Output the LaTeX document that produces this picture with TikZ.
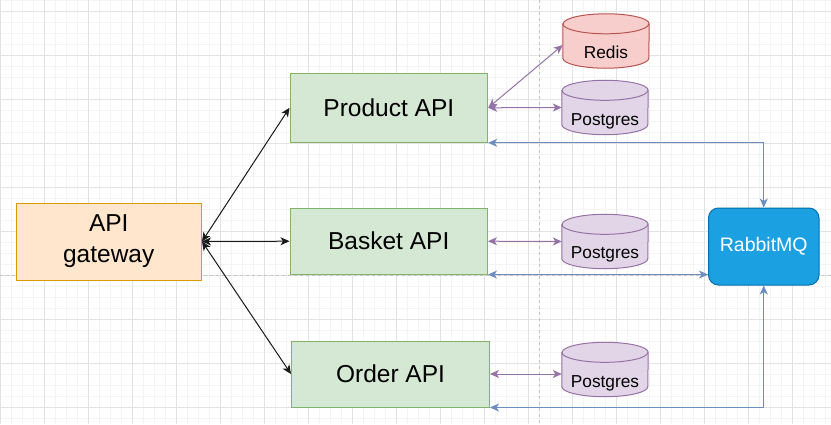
\documentclass[tikz,border=0pt]{standalone}
\usepackage{fontspec}
\setmainfont{Liberation Sans}
\usetikzlibrary{arrows.meta}
\definecolor{gwfill}{HTML}{FFE6CC}
\definecolor{gwdraw}{HTML}{D79B00}
\definecolor{apifill}{HTML}{D5E8D4}
\definecolor{apidraw}{HTML}{82B366}
\definecolor{redfill}{HTML}{F8CECC}
\definecolor{reddraw}{HTML}{B85450}
\definecolor{purfill}{HTML}{E1D5E7}
\definecolor{purdraw}{HTML}{9673A6}
\definecolor{rmqfill}{HTML}{1BA1E2}
\definecolor{rmqdraw}{HTML}{006EAF}
\definecolor{blueline}{HTML}{6C8EBF}
\definecolor{minorg}{HTML}{F4F4F4}
\definecolor{majorg}{HTML}{E2E2E2}
\definecolor{guide}{HTML}{C4C4C4}
\newcommand\drawcyl[3]{%
  \path[fill=#2,draw=#3,line width=1pt] ([yshift=-10pt]#1.north west) -- ([yshift=10pt]#1.south west)
    arc[start angle=180,end angle=360,x radius=43pt,y radius=10pt]
    -- ([yshift=-10pt]#1.north east)
    arc[start angle=0,end angle=180,x radius=43pt,y radius=10pt] -- cycle;
  \draw[#3,line width=1pt] ([yshift=-10pt]#1.north west)
    arc[start angle=180,end angle=360,x radius=43pt,y radius=10pt];}
\begin{document}
\begin{tikzpicture}[x=1pt,y=-1pt,
  minorline/.style={draw=minorg,line width=0.8pt},
  majorline/.style={draw=majorg,line width=0.8pt},
  guideline/.style={draw=guide,line width=0.8pt,dash pattern=on 3pt off 3pt},
  apibox/.style={draw=apidraw,fill=apifill,line width=1pt,inner sep=0pt,
    font=\fontsize{24.5}{31}\selectfont},
  gwbox/.style={draw=gwdraw,fill=gwfill,line width=1pt,inner sep=0pt,align=center,
    font=\fontsize{24.5}{31}\selectfont},
  rmqbox/.style={draw=rmqdraw,fill=rmqfill,line width=1pt,rounded corners=10pt,
    inner sep=0pt,text=white,font=\fontsize{19.5}{23}\selectfont},
  cylnode/.style={minimum width=86pt,minimum height=54pt,inner sep=0pt},
  cyllabel/.style={anchor=base,inner sep=0pt,font=\fontsize{17.3}{20}\selectfont},
  >={Stealth[length=9pt,width=8pt,inset=2.5pt]},
  blackarrow/.style={<->,draw=black!90,line width=1pt},
  purarrow/.style={<->,draw=purdraw,line width=1pt},
  bluearrow/.style={<->,draw=blueline,line width=1pt},
]
\useasboundingbox (0,0) rectangle (831,424);
\fill[white] (0,0) rectangle (831,424);
% grid
\foreach \i in {0,...,75} \draw[minorline] (11*\i,0) -- (11*\i,424);
\foreach \j in {0,...,38} \draw[minorline] (0,0.5+11*\j) -- (831,0.5+11*\j);
\foreach \i in {0,...,18} \draw[majorline] (44*\i,0) -- (44*\i,424);
\foreach \j in {0,...,9} \draw[majorline] (0,11.5+44*\j) -- (831,11.5+44*\j);
% guides
\draw[guideline] (539.5,0) -- (539.5,424);
\draw[guideline] (0,275.5) -- (831,275.5);

% boxes
\node[gwbox,minimum width=185.5pt,minimum height=77pt] (gw) at (108.75,241.5) {API\\gateway};
\node[apibox,minimum width=197.7pt,minimum height=69pt] (product) at (388.85,107.8) {Product API};
\node[apibox,minimum width=197.5pt,minimum height=65.7pt] (basket) at (388.75,241.2) {Basket API};
\node[apibox,minimum width=198pt,minimum height=66pt] (order) at (390.5,374) {Order API};
\node[rmqbox,minimum width=110.5pt,minimum height=77pt] (rmq) at (763.75,246.5) {RabbitMQ};

% cylinders
\node[cylnode] (redis) at (606,41) {};
\node[cylnode] (pga) at (605,107.5) {};
\node[cylnode] (pgb) at (605,241.5) {};
\node[cylnode] (pgc) at (605,369.5) {};
\drawcyl{redis}{redfill}{reddraw}
\drawcyl{pga}{purfill}{purdraw}
\drawcyl{pgb}{purfill}{purdraw}
\drawcyl{pgc}{purfill}{purdraw}
\node[cyllabel] (redislbl) at ([yshift=-17.5pt]redis.center) {Redis};
\node[cyllabel] (pgalbl) at ([yshift=-18pt]pga.center) {Postgres};
\node[cyllabel] (pgblbl) at ([yshift=-17pt]pgb.center) {Postgres};
\node[cyllabel] (pgclbl) at ([yshift=-18pt]pgc.center) {Postgres};

% gateway connectors
\draw[blackarrow] (gw.east) -- (product.west);
\draw[blackarrow] (gw.east) -- (basket.west);
\draw[blackarrow] (gw.east) -- (order.west);

% database connectors
\draw[purarrow] (product.east) -- ([yshift=-4pt]redis.west);
\draw[purarrow] (product.east) -- (pga.west);
\draw[purarrow] (basket.east) -- (pgb.west);
\draw[purarrow] (order.east) -- (pgc.west |- order.east);

% rabbitmq connectors
\draw[bluearrow] (product.south east) -| (rmq.north);
\draw[bluearrow] (basket.south east) -- (rmq.west |- basket.south east);
\draw[bluearrow] (order.south east) -| (rmq.south);
\end{tikzpicture}
\end{document}
